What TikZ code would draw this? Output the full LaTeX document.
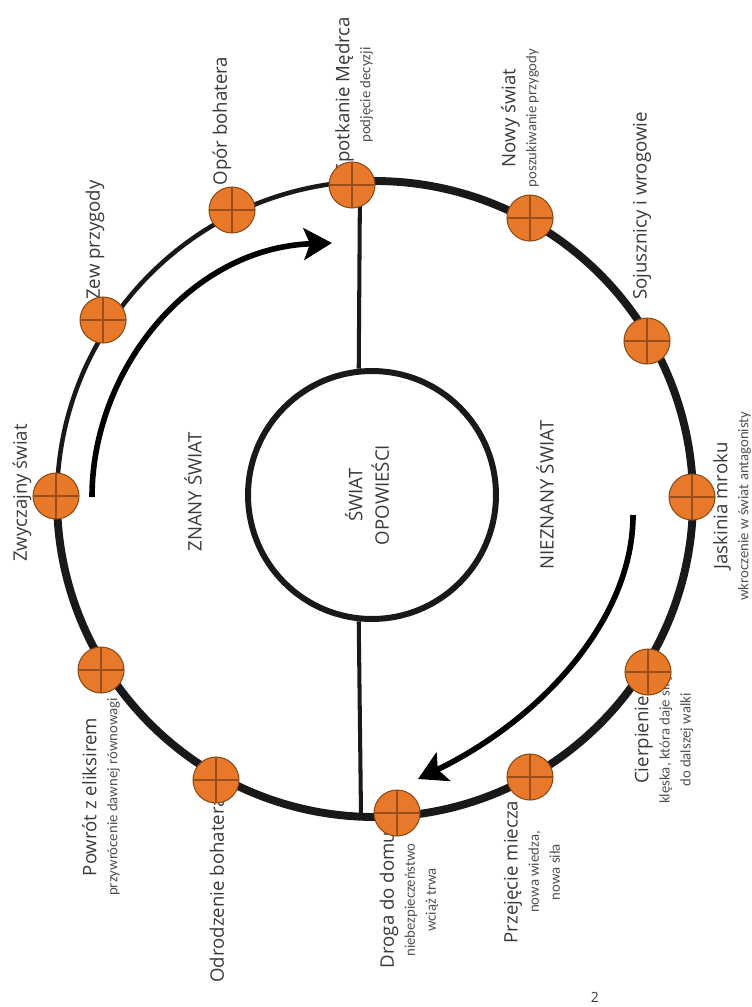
\documentclass[tikz,border=0pt]{standalone}
\usepackage{fontspec}
\setmainfont{Open Sans}
\newfontfamily\subfam{Carlito}
\usetikzlibrary{arrows.meta}
\definecolor{nodeorange}{HTML}{E8782A}
\definecolor{nodeedge}{HTML}{8C4A14}
\definecolor{crossline}{HTML}{9A4E18}
\definecolor{labelgray}{HTML}{3A3A3A}
\definecolor{subgray}{HTML}{505050}
\newcommand{\mfont}{\fontsize{10.6}{12}\selectfont}
\newcommand{\subtx}{\subfam\fontsize{8.4}{12}\selectfont\color{subgray}}
\begin{document}
\begin{tikzpicture}[x=0.02cm,y=0.02cm,
  stage/.style={circle, fill=nodeorange, draw=nodeedge, line width=0.6pt,
    minimum size=0.92cm, inner sep=0pt,
    path picture={\draw[crossline, line width=0.8pt]
      (path picture bounding box.north) -- (path picture bounding box.south)
      (path picture bounding box.west) -- (path picture bounding box.east);}},
  lbl/.style={rotate=90, align=center, text=labelgray, font=\mfont, inner sep=0pt},
  ring/.style={draw=black!90, line width=4.5pt},
  thinring/.style={draw=black!90, line width=2.6pt},
  spoke/.style={draw=black!90, line width=2.3pt},
  journey/.style={draw=black, line width=3.2pt, -{Stealth[length=16pt,width=18pt,inset=3.5pt]}}
]
\useasboundingbox (0,0) rectangle (751,-1007);

% labels (drawn first, nodes cover parts of them)
\node[lbl] (l1) at (354,-95) {Spotkanie Mędrca\\{\subtx podjęcie decyzji}};
\node[lbl] (l2) at (222,-121) {Opór bohatera};
\node[lbl] (l3) at (95,-240) {Zew przygody};
\node[lbl] (l4) at (22,-493) {Zwyczajny świat};
\node[lbl] (l5) at (101,-797) {Powrót z eliksirem\\{\subtx przywrócenie dawnej równowagi}};
\node[lbl] (l6) at (217,-890) {Odrodzenie bohatera};
\node[lbl] (l7) at (409,-900) {Droga do domu\\{\subtx niebezpieczeństwo}\\{\subtx wciąż trwa}};
\node[lbl] (l8) at (532,-872) {Przejęcie miecza\\{\subtx nowa wiedza,}\\{\subtx nowa siła}};
\node[lbl] (l9) at (664,-740) {Cierpienie\\{\subtx klęska, która daje siłę}\\{\subtx do dalszej walki}};
\node[lbl] (l10) at (732,-506) {Jaskinia mroku\\{\subtx wkroczenie w świat antagonisty}};
\node[lbl] (l11) at (642,-206) {Sojusznicy i wrogowie};
\node[lbl] (l12) at (520,-118) {Nowy świat\\{\subtx poszukiwanie przygody}};

\node[lbl] (znany) at (193,-492) {ZNANY ŚWIAT};
\node[lbl] (nieznany) at (545,-495) {NIEZNANY ŚWIAT};
\node[lbl] (opow) at (367,-495) {ŚWIAT\\[3pt]OPOWIEŚCI};

\node[text=labelgray, font=\fontsize{8}{9}\selectfont, inner sep=0pt] (pgnum) at (595,-997) {2};

% outer ring
\coordinate (c) at (375,-499);
\draw[ring] (c) ++(180:318) arc[start angle=180, end angle=454.5, radius=318];
\draw[thinring] (c) ++(94.5:318) arc[start angle=94.5, end angle=180, radius=318];

% inner circle
\node[circle, draw=black!90, line width=3.4pt, minimum size=4.96cm, inner sep=0pt] (inner) at (372,-495) {};

% spokes
\coordinate (stop) at (360,-183);
\coordinate (sbot) at (361,-815);
\draw[spoke] (stop) -- (inner.96);
\draw[spoke] (inner.264) -- (sbot);

% journey arrows
\coordinate (la1) at (92,-497);
\coordinate (la2) at (332,-243);
\draw[journey] (la1) .. controls (92,-370) and (190,-248) .. (la2);
\coordinate (ra1) at (633,-515);
\coordinate (ra2) at (418,-779);
\draw[journey] (ra1) .. controls (633,-620) and (540,-720) .. (ra2);

% stages
\node[stage] (n1) at (352,-185) {};
\node[stage] (n2) at (232,-210) {};
\node[stage] (n3) at (103,-320) {};
\node[stage] (n4) at (56,-496) {};
\node[stage] (n5) at (101,-670) {};
\node[stage] (n6) at (216,-780) {};
\node[stage] (n7) at (397,-813) {};
\node[stage] (n8) at (530,-777) {};
\node[stage] (n9) at (648,-672) {};
\node[stage] (n10) at (692,-497) {};
\node[stage] (n11) at (647,-341) {};
\node[stage] (n12) at (530,-218) {};
\end{tikzpicture}
\end{document}
